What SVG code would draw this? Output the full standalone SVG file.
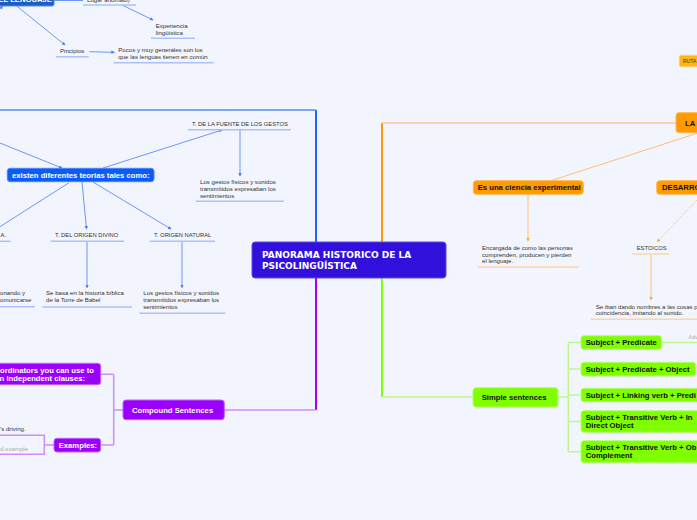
<svg xmlns="http://www.w3.org/2000/svg" width="697" height="520" viewBox="0 0 697 520">
<defs>
<marker id="ab" viewBox="0 0 6 6" refX="5" refY="3" markerWidth="3.5" markerHeight="3.5" orient="auto"><path d="M0,0 L6,3 L0,6 z" fill="#4a7cf2"/></marker>
<marker id="ao" viewBox="0 0 6 6" refX="5" refY="3" markerWidth="3.5" markerHeight="3.5" orient="auto"><path d="M0,0 L6,3 L0,6 z" fill="#f7a640"/></marker>
<style>
.t{font-family:"Liberation Sans",Arial,sans-serif;font-size:6.1px;fill:#333}
.h{font-family:"Liberation Sans",Arial,sans-serif;font-size:5.8px;fill:#333}
.b{font-family:"Liberation Sans",Arial,sans-serif;font-size:7.7px;font-weight:bold}
.w{fill:#fff}
.k{fill:#111}
.ub{stroke:#a9c2fb;stroke-width:1.5}
.uo{stroke:#fcd5a6;stroke-width:1.5}
.cb{stroke:#6d97f5;stroke-width:1;fill:none}
.co{stroke:#fbbf76;stroke-width:1;fill:none}
.cg{stroke:#bff78f;stroke-width:1.5;fill:none}
.cp{stroke:#d08cff;stroke-width:1.5;fill:none}
.nb{fill:#0b5cf6;stroke:#4d86f8;stroke-width:1}
.no{fill:#ff9a00;stroke:#ffb84d;stroke-width:1}
.ng{fill:#80ff00;stroke:#b0ff70;stroke-width:1}
.np{fill:#9a00fa;stroke:#c061ff;stroke-width:1}
</style>
</defs>
<rect width="697" height="520" fill="#f2f5fd"/>

<g id="connectors">
  <path d="M316,242 V110" stroke="#2264f3" stroke-width="2" fill="none"/>
  <path d="M316,110 H0" stroke="#5a87f2" stroke-width="1.5" fill="none"/>
  <path d="M0,143 L62,168" class="cb" marker-end="url(#ab)"/>
  <path d="M103,168 L222,130" class="cb" marker-end="url(#ab)"/>
  <path d="M240,130 V176" class="cb" marker-end="url(#ab)"/>
  <path d="M69,182.7 L0,226.7" class="cb"/>
  <path d="M82,182 L86.5,229" class="cb" marker-end="url(#ab)"/>
  <path d="M93,182 L171,229" class="cb" marker-end="url(#ab)"/>
  <path d="M87,242 V287.7" class="cb" marker-end="url(#ab)"/>
  <path d="M182,242 V287.7" class="cb" marker-end="url(#ab)"/>
  <path d="M54,0.5 H83" class="cb"/>
  <path d="M122,5 L153,20" class="cb" marker-end="url(#ab)"/>
  <path d="M16.7,6 L65,45" class="cb" marker-end="url(#ab)"/>
  <path d="M89.3,51.7 L114.3,52.3" class="cb" marker-end="url(#ab)"/>
  <path d="M0,9.5 L2.5,6" class="cb" marker-end="url(#ab)"/>

  <path d="M382,242 V123" stroke="#ff9900" stroke-width="2" fill="none"/>
  <path d="M382,123 H676" stroke="#fcc88e" stroke-width="1.5" fill="none"/>
  <path d="M697,133.3 L551,180.7" class="co"/>
  <path d="M528,194.3 V241" class="co" marker-end="url(#ao)"/>
  <path d="M697,200 L657.3,241.7" class="co" stroke-dasharray="1,1" marker-end="url(#ao)"/>
  <path d="M651,255 V300" class="co" marker-end="url(#ao)"/>

  <path d="M382,278 V397" stroke="#80ff00" stroke-width="2" fill="none"/>
  <path d="M382,397 H473" class="cg"/>
  <path d="M558,397 H568.3 M568.3,342.5 V451.7 M568.3,342.5 H581 M568.3,369 H581 M568.3,395 H581 M568.3,421.5 H581 M568.3,451.7 H581" class="cg"/>
  <path d="M661.7,342.5 H697" class="cg"/>

  <path d="M316,278 V410" stroke="#a000ff" stroke-width="2" fill="none"/>
  <path d="M316,410 H224.3" class="cp"/>
  <path d="M123,410 H113.7 M113.7,374.3 V445 M113.7,374.3 H100.7 M113.7,445 H100.7" class="cp"/>
  <path d="M54,445 H44.3 M0,435.3 H44.3 V454.3 H0" class="cp"/>
</g>

<g id="central">
  <rect x="252" y="242" width="194" height="36" rx="3" fill="#3210db" stroke="#5b49ea" stroke-width="1"/>
  <text x="262" y="258" font-family="'DejaVu Sans',Verdana,sans-serif" font-size="9" font-weight="bold" fill="#fff">PANORAMA HISTORICO DE LA</text>
  <text x="262" y="268.7" font-family="'DejaVu Sans',Verdana,sans-serif" font-size="9" font-weight="bold" fill="#fff">PSICOLINGÜÍSTICA</text>
</g>

<g id="origen-lenguaje">
  <rect x="-4" y="-8" width="58" height="14" rx="2" fill="#1b5fc6" stroke="#5a8ae0" stroke-width="1"/>
  <text x="52" y="2" class="b w" font-size="6.2" text-anchor="end">N DEL LENGUAJE</text>
</g>
<g id="lugar">
  <text x="87" y="1.5" class="t">Lugar anómalo)</text>
  <line x1="83" y1="5" x2="136" y2="5" class="ub"/>
</g>
<g id="experiencia">
  <text x="155.7" y="28.3" class="t">Experiencia</text>
  <text x="155.7" y="35" class="t">lingüística</text>
  <line x1="151" y1="38.3" x2="195" y2="38.3" class="ub"/>
</g>
<g id="principios">
  <text x="60" y="53" class="t">Pincipios</text>
  <line x1="56" y1="56.7" x2="88.7" y2="56.7" class="ub"/>
</g>
<g id="pocos">
  <text x="118.3" y="52.3" class="t">Pocos y muy generales son los</text>
  <text x="118.3" y="59.3" class="t">que las lenguas tienen en común</text>
  <line x1="113.7" y1="62.7" x2="213.7" y2="62.7" class="ub"/>
</g>

<g id="existen">
  <rect x="7.3" y="168.3" width="146.7" height="13.4" rx="3" class="nb"/>
  <text x="12" y="177.7" class="b w">existen diferentes teorias tales como:</text>
</g>
<g id="t-fuente">
  <text x="192" y="125.7" class="h">T. DE LA FUENTE DE LOS GESTOS</text>
  <line x1="188" y1="129.7" x2="291" y2="129.7" class="ub"/>
</g>
<g id="gestos-1">
  <text x="200" y="184" class="t">Los gestos físicos y sonidos</text>
  <text x="200" y="191" class="t">transmitidos expresaban los</text>
  <text x="200" y="197.7" class="t">sentimientos</text>
  <line x1="195.7" y1="201.3" x2="283.7" y2="201.3" class="ub"/>
</g>
<g id="t-a">
  <text x="6" y="236.7" class="h" text-anchor="end">A.</text>
  <line x1="0" y1="241.3" x2="10.7" y2="241.3" class="ub"/>
</g>
<g id="t-divino">
  <text x="55" y="236.7" class="h">T. DEL ORIGEN DIVINO</text>
  <line x1="50.7" y1="241.3" x2="124" y2="241.3" class="ub"/>
</g>
<g id="t-natural">
  <text x="154" y="236.7" class="h">T. ORIGEN NATURAL</text>
  <line x1="149.7" y1="241.3" x2="215" y2="241.3" class="ub"/>
</g>
<g id="onando">
  <text x="0" y="295.3" class="t">onando y</text>
  <text x="0" y="302.3" class="t">omunicarse</text>
  <line x1="0" y1="306.7" x2="35" y2="306.7" class="ub"/>
</g>
<g id="babel">
  <text x="46" y="295.3" class="t">Se basa en la historia bíblica</text>
  <text x="46" y="302.3" class="t">de la Torre de Babel</text>
  <line x1="42.3" y1="307" x2="132" y2="307" class="ub"/>
</g>
<g id="gestos-2">
  <text x="143.3" y="295.3" class="t">Los gestos físicos y sonidos</text>
  <text x="143.3" y="302.3" class="t">transmitidos expresaban los</text>
  <text x="143.3" y="309" class="t">sentimientos</text>
  <line x1="139.3" y1="313.3" x2="225.3" y2="313.3" class="ub"/>
</g>

<g id="ruta">
  <rect x="679.3" y="55.3" width="30" height="11.4" rx="2" fill="#ffb319" stroke="#ffd070" stroke-width="1"/>
  <text x="683" y="62.8" font-family="'Liberation Sans',Arial,sans-serif" font-size="5" fill="#333">RUTA</text>
</g>
<g id="la">
  <rect x="676" y="112.7" width="30" height="20" rx="3" class="no"/>
  <text x="685" y="125.7" class="b k">LA</text>
</g>
<g id="ciencia">
  <rect x="473.3" y="180.7" width="110" height="13.6" rx="3" class="no"/>
  <text x="477.7" y="190" class="b k">Es una ciencia experimental</text>
</g>
<g id="desarrollo">
  <rect x="656.7" y="180.7" width="50" height="13.6" rx="3" class="no"/>
  <text x="662" y="190" class="b k">DESARRO</text>
</g>
<g id="encargada">
  <text x="482" y="250" class="t">Encargada de como las personas</text>
  <text x="482" y="256.7" class="t">comprenden, producen y pierden</text>
  <text x="482" y="263" class="t">el lenguaje.</text>
  <line x1="478.3" y1="267" x2="579" y2="267" class="uo"/>
</g>
<g id="estoicos">
  <text x="636.7" y="250" class="h">ESTOICOS</text>
  <line x1="632.3" y1="254" x2="669.3" y2="254" class="uo"/>
</g>
<g id="se-iban">
  <text x="595.7" y="308.7" class="t">Se iban dando nombres a las cosas p</text>
  <text x="595.7" y="315.3" class="t">coincidencia, imitando al sonido.</text>
  <line x1="591" y1="319.3" x2="697" y2="319.3" class="uo"/>
</g>

<g id="simple">
  <rect x="473" y="387.7" width="85" height="19.3" rx="3" class="ng"/>
  <text x="481.7" y="400" class="b k">Simple sentences</text>
</g>
<g id="s1">
  <rect x="581" y="335.7" width="80.7" height="13.6" rx="3" class="ng"/>
  <text x="585.7" y="344.9" class="b k">Subject + Predicate</text>
</g>
<g id="adv">
  <text x="688.3" y="339" font-family="'Liberation Sans',Arial,sans-serif" font-size="5.5" fill="#aaa">Adv</text>
</g>
<g id="s2">
  <rect x="581" y="362.3" width="114.7" height="13.7" rx="3" class="ng"/>
  <text x="585.7" y="371.7" class="b k">Subject + Predicate + Object</text>
</g>
<g id="s3">
  <rect x="581" y="388.3" width="125" height="13.4" rx="3" class="ng"/>
  <text x="585.7" y="397.7" class="b k">Subject + Linking verb + Predi</text>
</g>
<g id="s4">
  <rect x="581" y="410.7" width="125" height="21.6" rx="3" class="ng"/>
  <text x="585.7" y="419.7" class="b k">Subject + Transitive Verb + In</text>
  <text x="585.7" y="427.7" class="b k">Direct Object</text>
</g>
<g id="s5">
  <rect x="581" y="440.7" width="125" height="22" rx="3" class="ng"/>
  <text x="585.7" y="449.7" class="b k">Subject + Transitive Verb + Ob</text>
  <text x="585.7" y="457.7" class="b k">Complement</text>
</g>

<g id="compound">
  <rect x="123" y="400" width="101.3" height="19.7" rx="3" class="np"/>
  <text x="132" y="412.7" class="b w">Compound Sentences</text>
</g>
<g id="coordinators">
  <rect x="-5" y="363.3" width="105.7" height="21.4" rx="3" class="np"/>
  <text x="94" y="372.5" class="b w" text-anchor="end">ordinators you can use to</text>
  <text x="85" y="380.5" class="b w" text-anchor="end">in independent clauses:</text>
</g>
<g id="examples">
  <rect x="54" y="438.3" width="46.7" height="13.7" rx="3" class="np"/>
  <text x="58.7" y="447.7" class="b w">Examples:</text>
</g>
<g id="example-text">
  <text x="0" y="431" class="t">’s driving.</text>
  <text x="0" y="451.3" class="t" style="fill:#aaa">d example</text>
</g>
</svg>
